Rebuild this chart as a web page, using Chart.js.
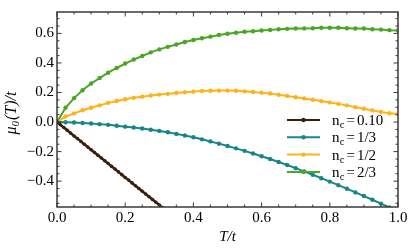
<!DOCTYPE html>
<html><head><meta charset="utf-8">
<script src="https://cdn.jsdelivr.net/npm/chart.js@4/dist/chart.umd.min.js"></script>
<style>html,body{margin:0;padding:0;background:#fff}canvas{display:block}</style>
</head><body>
<canvas id="c" width="415" height="251"></canvas>
<script>
// temperature grid T/t for the three sampled curves
const T = [0,0.025,0.05,0.075,0.1,0.125,0.15,0.175,0.2,0.225,0.25,0.275,0.3,0.325,0.35,0.375,0.4,0.425,0.45,0.475,0.5,0.525,0.55,0.575,0.6,0.625,0.65,0.675,0.7,0.725,0.75,0.775,0.8,0.825,0.85,0.875,0.9,0.925,0.95,0.975,1.0];
// n_c = 0.10 (dense sampling)
const brownT = [0,0.01,0.02,0.03,0.04,0.05,0.06,0.07,0.08,0.09,0.1,0.11,0.12,0.13,0.14,0.15,0.16,0.17,0.18,0.19,0.2,0.21,0.22,0.23,0.24,0.25,0.26,0.27,0.28,0.29,0.3,0.31,0.32];
const brownMu = [0,-0.019,-0.037,-0.056,-0.075,-0.094,-0.112,-0.131,-0.150,-0.169,-0.187,-0.206,-0.225,-0.243,-0.262,-0.281,-0.300,-0.318,-0.337,-0.356,-0.375,-0.393,-0.412,-0.431,-0.450,-0.468,-0.487,-0.506,-0.524,-0.543,-0.562,-0.581,-0.599];
// n_c = 1/3
const tealMu = [0,-0.001,-0.003,-0.006,-0.010,-0.014,-0.019,-0.025,-0.031,-0.037,-0.044,-0.052,-0.060,-0.069,-0.080,-0.091,-0.103,-0.117,-0.131,-0.146,-0.162,-0.178,-0.195,-0.213,-0.231,-0.250,-0.270,-0.291,-0.312,-0.334,-0.357,-0.380,-0.403,-0.427,-0.451,-0.476,-0.501,-0.526,-0.552,-0.578,-0.604];
// n_c = 1/2
const orangeMu = [0,0.038,0.059,0.080,0.097,0.113,0.130,0.143,0.154,0.164,0.172,0.180,0.186,0.191,0.197,0.202,0.206,0.210,0.212,0.213,0.213,0.212,0.208,0.204,0.199,0.193,0.185,0.177,0.168,0.160,0.151,0.142,0.133,0.123,0.113,0.101,0.090,0.079,0.068,0.060,0.055];
// n_c = 2/3
const greenMu = [0,0.097,0.162,0.215,0.261,0.298,0.334,0.366,0.396,0.423,0.447,0.472,0.492,0.509,0.525,0.542,0.555,0.567,0.578,0.589,0.598,0.605,0.611,0.615,0.620,0.624,0.628,0.631,0.633,0.634,0.635,0.638,0.638,0.638,0.635,0.633,0.633,0.628,0.626,0.622,0.620];

const seriesLabels = ['0.10','1/3','1/2','2/3'];
const xTickVals = [0,0.2,0.4,0.6,0.8,1.0];
const yTickVals = [-0.4,-0.2,0,0.2,0.4,0.6];

const serif = '"Liberation Serif","Times New Roman",Times,serif';
const colors = ['#3b1f0e','#17868b','#ffb31a','#4aa624'];
const fmt = v => (v < -1e-9 ? '\u2212' : '') + Math.abs(v).toFixed(1);
const pts = (xs, ys) => xs.map((x, i) => ({x: x, y: ys[i]}));

function ds(i, data, lw, r) {
  return {
    label: seriesLabels[i], data: data,
    borderColor: colors[i], backgroundColor: colors[i],
    pointBackgroundColor: colors[i], pointBorderWidth: 0,
    pointRadius: r, borderWidth: lw, tension: 0, clip: 0
  };
}

const frame = {
  id: 'frame',
  afterDatasetsDraw(chart) {
    const {ctx, chartArea: a, scales: {x, y}} = chart;
    ctx.save();
    ctx.strokeStyle = '#3a3a3a';
    ctx.lineWidth = 1;
    ctx.beginPath();
    for (let k = 0; k <= 20; k++) {
      const v = k * 0.05;
      const major = k % 4 === 0;
      const len = major ? 4.5 : 2.5;
      const px = x.getPixelForValue(v);
      ctx.moveTo(px, a.bottom); ctx.lineTo(px, a.bottom - len);
      ctx.moveTo(px, a.top); ctx.lineTo(px, a.top + len);
    }
    for (let k = -11; k <= 14; k++) {
      const v = k * 0.05;
      if (v < y.min || v > y.max) continue;
      const major = ((k % 4) + 4) % 4 === 0;
      const len = major ? 4.5 : 2.5;
      const py = y.getPixelForValue(v);
      ctx.moveTo(a.left, py); ctx.lineTo(a.left + len, py);
      ctx.moveTo(a.right, py); ctx.lineTo(a.right - len, py);
    }
    ctx.stroke();
    ctx.lineWidth = 1.5;
    ctx.strokeRect(a.left, a.top, a.right - a.left, a.bottom - a.top);
    ctx.restore();
  },
  afterDraw(chart) {
    const ctx = chart.ctx;
    ctx.save();
    // legend
    chart.data.datasets.forEach((d, i) => {
      const yy = 120 + i * 17.3;
      ctx.strokeStyle = d.borderColor;
      ctx.lineWidth = 2;
      ctx.beginPath(); ctx.moveTo(287, yy); ctx.lineTo(320, yy); ctx.stroke();
      ctx.fillStyle = d.borderColor;
      ctx.beginPath(); ctx.arc(303.5, yy, 2.2, 0, Math.PI * 2); ctx.fill();
      ctx.fillStyle = '#000';
      ctx.textBaseline = 'alphabetic';
      ctx.textAlign = 'left';
      let xx = 332;
      const base = yy + 5;
      ctx.font = '15px ' + serif;
      ctx.fillText('n', xx, base); xx += ctx.measureText('n').width + 0.3;
      ctx.font = '10.5px ' + serif;
      ctx.fillText('c', xx, base + 3); xx += ctx.measureText('c').width + 2;
      ctx.font = '15px ' + serif;
      ctx.fillText('=', xx, base); xx += ctx.measureText('=').width + 2;
      ctx.fillText(d.label, xx, base);
    });
    // y-axis title
    ctx.translate(11, 113);
    ctx.rotate(-Math.PI / 2);
    ctx.fillStyle = '#000';
    const f1 = 'italic 16px ' + serif, f2 = 'italic 11px ' + serif;
    ctx.font = f1; const w1 = ctx.measureText('\u03bc').width;
    ctx.font = f2; const w2 = ctx.measureText('0').width;
    ctx.font = f1; const w3 = ctx.measureText('(T)/t').width;
    const tot = w1 + w2 + 1 + w3;
    let sx = -tot / 2;
    ctx.textBaseline = 'alphabetic';
    ctx.font = f1; ctx.fillText('\u03bc', sx, 5); sx += w1;
    ctx.font = f2; ctx.fillText('0', sx, 8); sx += w2 + 1;
    ctx.font = f1; ctx.fillText('(T)/t', sx, 5);
    ctx.restore();
  }
};

new Chart(document.getElementById('c'), {
  type: 'line',
  data: {
    datasets: [
      ds(0, pts(brownT, brownMu), 2.5, 1.8),
      ds(1, pts(T, tealMu), 2, 2.2),
      ds(2, pts(T, orangeMu), 2, 2.2),
      ds(3, pts(T, greenMu), 2, 2.2)
    ]
  },
  options: {
    responsive: false, devicePixelRatio: 1, animation: false,
    layout: {padding: {left: 0, right: 17, top: 8, bottom: 0}},
    plugins: {legend: {display: false}, tooltip: {enabled: false}},
    scales: {
      x: {
        type: 'linear', min: 0, max: 1,
        afterBuildTicks: s => { s.ticks = xTickVals.map(v => ({value: v})); },
        afterFit: s => { s.height = 44; },
        ticks: {callback: v => fmt(v), font: {family: serif, size: 15}, color: '#000', padding: 2, maxRotation: 0, autoSkip: false},
        grid: {display: false, drawTicks: false},
        border: {display: false},
        title: {display: true, text: 'T/t', color: '#000', font: {family: serif, size: 15, style: 'italic'}, padding: {top: 0, bottom: 5}}
      },
      y: {
        type: 'linear', min: -0.575, max: 0.745,
        afterBuildTicks: s => { s.ticks = yTickVals.map(v => ({value: v})); },
        afterFit: s => { s.width = 57; },
        ticks: {callback: v => fmt(v), font: {family: serif, size: 15}, color: '#000', padding: 3, autoSkip: false},
        grid: {display: false, drawTicks: false},
        border: {display: false}
      }
    }
  },
  plugins: [frame]
});
</script>
</body></html>
